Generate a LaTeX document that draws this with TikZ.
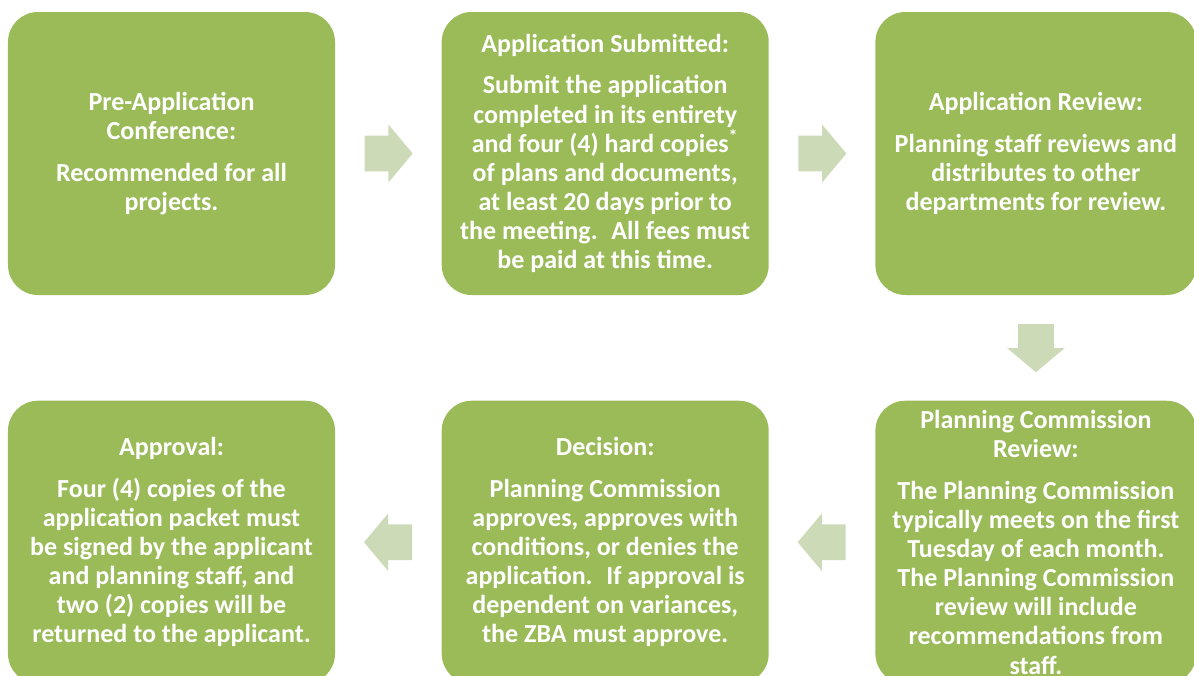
\documentclass[tikz,border=0pt]{standalone}
\usepackage{fontspec}
\setmainfont{Carlito}
\usetikzlibrary{positioning,shapes.arrows,calc}

\definecolor{boxgreen}{RGB}{155,187,89}
\definecolor{arrowgreen}{RGB}{205,218,183}

\begin{document}
\begin{tikzpicture}[
box/.style={
  fill=boxgreen,
  rounded corners=0.6cm,
  minimum width=6.54cm,
  minimum height=5.66cm,
  align=center,
  text=white,
  font=\bfseries\fontsize{14.8}{16.6}\selectfont
},
flow/.style={
  single arrow,
  fill=arrowgreen,
  inner sep=0pt,
  text height=0.7cm,
  text depth=0pt,
  single arrow head extend=0.22cm,
  single arrow tip angle=100,
  minimum height=0.96cm,
  anchor=tail
},
node distance=2.1cm and 2.12cm
]
\useasboundingbox (0,0) rectangle (23.88,-13.5);

% top row
\node[box] at (3.43,-3.07) (pre)
  {Pre-Application\\Conference:\\[7pt]Recommended for all\\projects.};
\node[box,right=of pre] (sub)
  {Application Submitted:\\[7pt]Submit the application\\completed in its entirety\\
   and four (4) hard copies\textsuperscript{*}\\of plans and documents,\\
   at least 20 days prior to\\the meeting.~ All fees must\\be paid at this time.};
\node[box,right=of sub,minimum width=6.42cm] (rev)
  {Application Review:\\[7pt]Planning staff reviews and\\distributes to other\\
   departments for review.};

% bottom row
\node[box,below=of rev,minimum width=6.42cm] (pc)
  {Planning Commission\\Review:\\[7pt]The Planning Commission\\typically meets on the first\\
   Tuesday of each month.\\The Planning Commission\\review will include\\
   recommendations from\\staff.};
\node[box,left=of pc] (dec)
  {Decision:\\[7pt]Planning Commission\\approves, approves with\\
   conditions, or denies the\\application.~ If approval is\\
   dependent on variances,\\the ZBA must approve.};
\node[box,left=of dec] (appr)
  {Approval:\\[7pt]Four (4) copies of the\\application packet must\\
   be signed by the applicant\\and planning staff, and\\
   two (2) copies will be\\returned to the applicant.};

% arrows
\node[flow] (a1) at ($(pre.east)!0.5!(sub.west)+(-0.48,0)$) {};
\node[flow] (a2) at ($(sub.east)!0.5!(rev.west)+(-0.48,0)$) {};
\node[flow,rotate=-90] (a3) at ($(rev.south)!0.5!(pc.north)+(0,0.48)$) {};
\node[flow,rotate=180] (a4) at ($(pc.west)!0.5!(dec.east)+(0.48,0)$) {};
\node[flow,rotate=180] (a5) at ($(dec.west)!0.5!(appr.east)+(0.48,0)$) {};

\end{tikzpicture}
\end{document}
